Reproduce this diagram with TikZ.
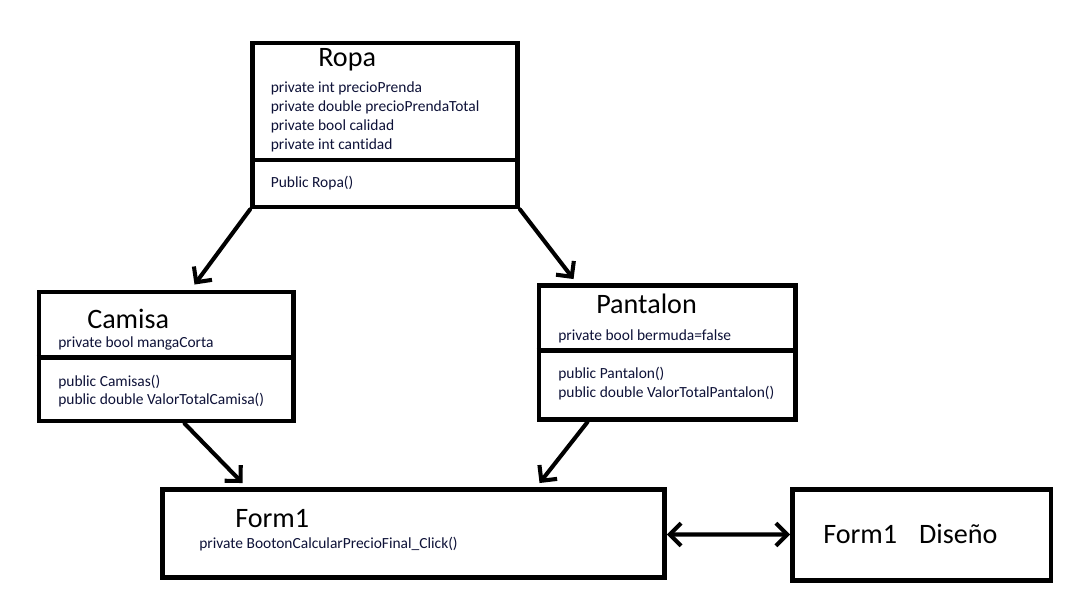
\documentclass[tikz,border=0pt]{standalone}
\usepackage{fontspec}
\setmainfont{Carlito}[Ligatures={NoCommon}]
\usepackage{xcolor}
\usepackage{tikz}
\usetikzlibrary{positioning,calc,arrows.meta}

\definecolor{memtxt}{RGB}{14,18,56}

\begin{document}
\begin{tikzpicture}[
				x=0.025cm,y=-0.025cm,
				line cap=round,line join=round,
				box/.style={draw=black,line width=3.5pt,line join=miter,rectangle,inner sep=0pt},
				sep/.style={draw=black,line width=3.5pt,line cap=butt},
				ttl/.style={anchor=base west,inner sep=0pt,font=\fontsize{20}{24}\selectfont},
				mem/.style={anchor=base west,inner sep=0pt,text=memtxt,font=\fontsize{11}{13}\selectfont},
				arr/.style={draw=black,line width=2.9pt,-{Straight Barb[length=8pt,width=16pt]}},
				dbl/.style={draw=black,line width=2.9pt,{Straight Barb[length=8pt,width=16pt]}-{Straight Barb[length=8pt,width=16pt]}}
				]
				% ---- parameters
				\def\px{0.025cm}    % one pixel of the reference
				\def\rowH{18.7}     % line spacing of the member lists
				
				% canvas
				\fill[white] (0,0) rectangle (1075,602);
				\useasboundingbox (0,0) rectangle (1075,602);
				
				% class boxes
				\node[box,minimum width=265*\px,minimum height=164*\px] (ropa) at (385,125) {};
				\node[box,minimum width=254.5*\px,minimum height=129*\px] (camisa) at (166.25,356.5) {};
				\node[box,minimum width=256.5*\px,minimum height=134*\px] (pantalon) at (667.25,352.5) {};
				\node[box,minimum width=502*\px,minimum height=88*\px] (form) at (413.5,533.5) {};
				\node[box,minimum width=258.5*\px,minimum height=91*\px] (diseno) at (921.75,535) {};
				
				% compartment lines
				\draw[sep] ($(ropa.north west)+(0,119.5)$) -- ($(ropa.north east)+(0,119.5)$);
				\draw[sep] ($(camisa.north west)+(0,67.5)$) -- ($(camisa.north east)+(0,67.5)$);
				\draw[sep] ($(pantalon.north west)+(0,67)$) -- ($(pantalon.north east)+(0,67)$);
				
				% Ropa
				\node[ttl] (ropaT) at (318,67) {Ropa};
				\foreach \t [count=\i] in {private int precioPrenda,private double precioPrendaTotal,private bool calidad,private int cantidad}{
					\node[mem] (ropaA\i) at (270.5,{93+(\i-1)*\rowH}) {\t};
				}
				\node[mem] (ropaM) at (270.5,188) {Public Ropa()};
				
				% Camisa
				\node[ttl] (camisaT) at (87,328) {Camisa};
				\node[mem] (camisaA) at (58,347) {private bool mangaCorta};
				\node[mem] (camisaM1) at (58,386) {public Camisas()};
				\node[mem] (camisaM2) at (58,404.5) {public double ValorTotalCamisa()};
				
				% Pantalon
				\node[ttl] (pantalonT) at (596,313) {Pantalon};
				\node[mem] (pantalonA) at (558,340) {private bool bermuda=false};
				\node[mem] (pantalonM1) at (558,378.5) {public Pantalon()};
				\node[mem] (pantalonM2) at (558,397) {public double ValorTotalPantalon()};
				
				% Form1
				\node[ttl] (formT) at (235,527) {Form1};
				\node[mem] (formM) at (199,548) {private BootonCalcularPrecioFinal\_Click()};
				
				% Form1 Diseño
				\node[ttl] (disenoT) at (823,543) {Form1\hspace{0.78em}Diseño};
				
				% connectors
				\draw[arr] (ropa.south west) -- ($(camisa.north west)+(158,-5)$);
				\draw[arr] (ropa.south east) -- ($(pantalon.north west)+(37,-4)$);
				\draw[arr] ($(camisa.south west)+(148,0)$) -- ($(form.north west)+(82.5,-4)$);
				\draw[arr] ($(pantalon.south west)+(51,0)$) -- ($(form.north west)+(379.5,-4)$);
				\draw[dbl] ($(form.east)+(0,1)$) -- ($(diseno.west)+(0,-0.5)$);
			\end{tikzpicture}
\end{document}
